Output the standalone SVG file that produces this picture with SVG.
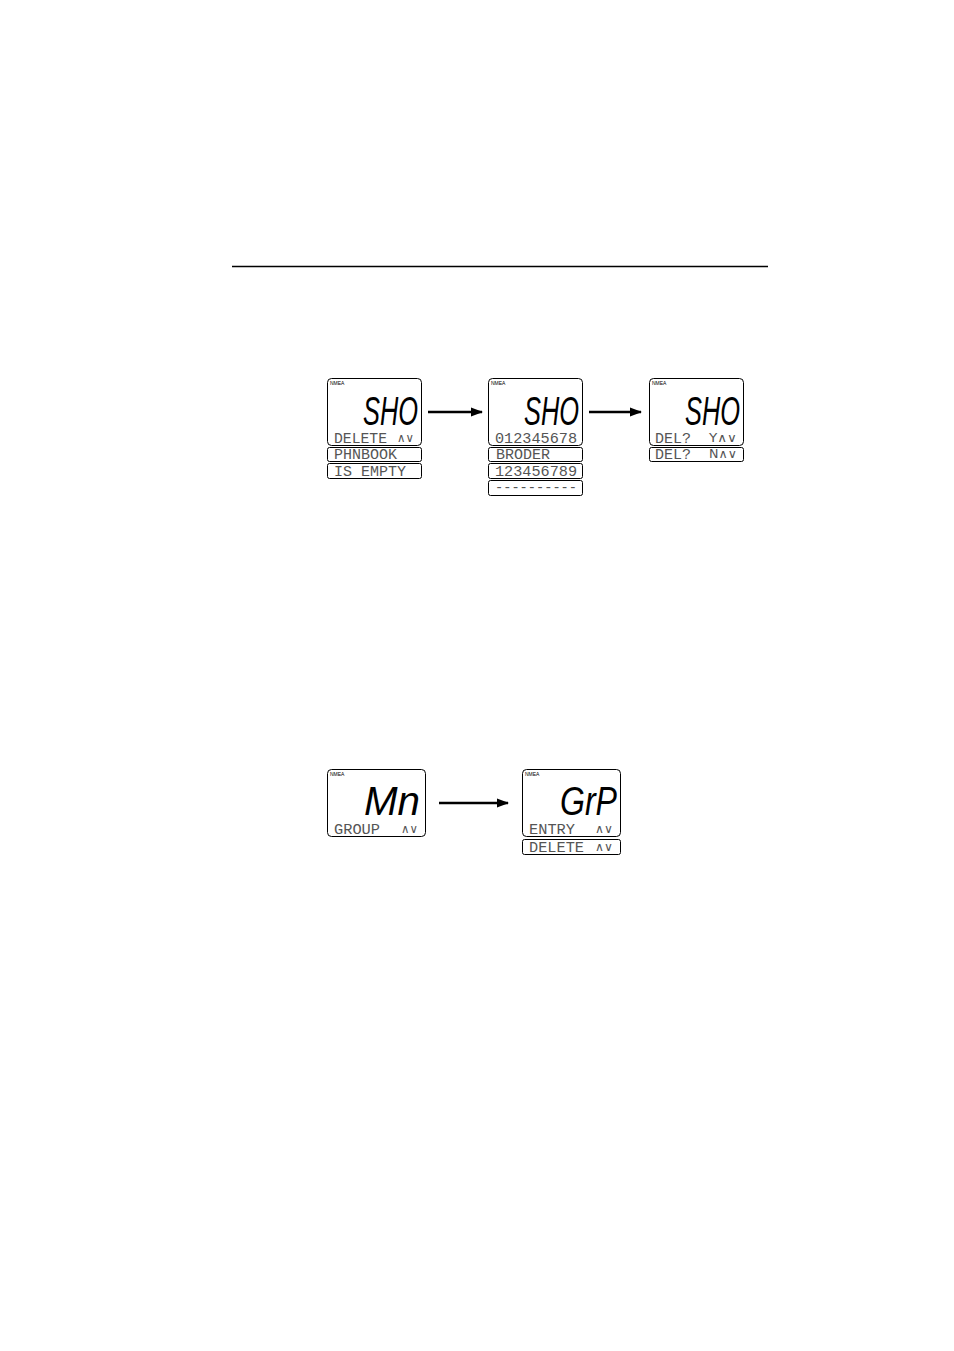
<svg xmlns="http://www.w3.org/2000/svg" width="954" height="1351" viewBox="0 0 954 1351">
<defs>
<style>
.box{fill:#fff;stroke:#000;stroke-width:1}
.strip{fill:#fff;stroke:#000;stroke-width:1}
.nmea{font-family:"Liberation Sans",Arial,sans-serif;font-size:5px;fill:#000}
.big{font-family:"Liberation Sans",Arial,sans-serif;font-size:40px;font-style:italic;fill:#000}
.lcd{font-family:"Liberation Mono","DejaVu Sans Mono",monospace;font-size:14px;fill:#555}
.sym{font-family:"DejaVu Sans",sans-serif;font-size:12px;fill:#555}
.conn{stroke:#000;stroke-width:2.5;fill:none}
</style>
<marker id="ah" markerWidth="12" markerHeight="10" refX="11" refY="5" orient="auto" markerUnits="userSpaceOnUse">
<path d="M0,0.5 L12,5 L0,9.5 Z" fill="#000"/>
</marker>
</defs>
<rect width="954" height="1351" fill="#fff"/>
<line x1="232" y1="266.5" x2="768" y2="266.5" stroke="#000" stroke-width="1.5"/>

<g id="connectors">
<line class="conn" x1="428" y1="412" x2="482" y2="412" marker-end="url(#ah)"/>
<line class="conn" x1="589" y1="412" x2="641" y2="412" marker-end="url(#ah)"/>
<line class="conn" x1="439" y1="803" x2="508" y2="803" marker-end="url(#ah)"/>
</g>

<g id="display1">
<rect class="box" x="327.5" y="378.5" width="94" height="67" rx="4"/>
<rect class="strip" x="327.5" y="447.5" width="94" height="14" rx="2"/>
<rect class="strip" x="327.5" y="463.5" width="94" height="15" rx="2"/>
<text class="nmea" x="330" y="385">NMEA</text>
<text class="big" x="363" y="425" textLength="55" lengthAdjust="spacingAndGlyphs">SHO</text>
<text class="lcd" x="334" y="443" textLength="53" lengthAdjust="spacingAndGlyphs">DELETE</text>
<text class="sym" x="397" y="442" textLength="17" lengthAdjust="spacingAndGlyphs">∧∨</text>
<text class="lcd" x="334" y="459" textLength="63" lengthAdjust="spacingAndGlyphs">PHNBOOK</text>
<text class="lcd" x="334" y="476" textLength="72" lengthAdjust="spacingAndGlyphs">IS EMPTY</text>
</g>

<g id="display2">
<rect class="box" x="488.5" y="378.5" width="94" height="67" rx="4"/>
<rect class="strip" x="488.5" y="447.5" width="94" height="14" rx="2"/>
<rect class="strip" x="488.5" y="463.5" width="94" height="15" rx="2"/>
<rect class="strip" x="488.5" y="480.5" width="94" height="15" rx="2"/>
<text class="nmea" x="491" y="385">NMEA</text>
<text class="big" x="524" y="425" textLength="55" lengthAdjust="spacingAndGlyphs">SHO</text>
<text class="lcd" x="495" y="443" textLength="82" lengthAdjust="spacingAndGlyphs">012345678</text>
<text class="lcd" x="496" y="459" textLength="54" lengthAdjust="spacingAndGlyphs">BRODER</text>
<text class="lcd" x="495" y="476" textLength="82" lengthAdjust="spacingAndGlyphs">123456789</text>
<text class="lcd" x="495" y="492" textLength="82" lengthAdjust="spacingAndGlyphs">----------</text>
</g>

<g id="display3">
<rect class="box" x="649.5" y="378.5" width="94" height="67" rx="4"/>
<rect class="strip" x="649.5" y="447.5" width="94" height="14" rx="2"/>
<text class="nmea" x="652" y="385">NMEA</text>
<text class="big" x="685" y="425" textLength="55" lengthAdjust="spacingAndGlyphs">SHO</text>
<text class="lcd" x="655" y="443" textLength="36" lengthAdjust="spacingAndGlyphs">DEL?</text>
<text class="sym" x="709" y="442" textLength="28" lengthAdjust="spacingAndGlyphs">Y∧∨</text>
<text class="lcd" x="655" y="459" textLength="36" lengthAdjust="spacingAndGlyphs">DEL?</text>
<text class="sym" x="709" y="458" textLength="28" lengthAdjust="spacingAndGlyphs">N∧∨</text>
</g>

<g id="display4">
<rect class="box" x="327.5" y="769.5" width="98" height="67" rx="4"/>
<text class="nmea" x="330" y="776">NMEA</text>
<text class="big" x="364" y="815" textLength="56" lengthAdjust="spacingAndGlyphs">Mn</text>
<text class="lcd" x="334" y="834" textLength="46" lengthAdjust="spacingAndGlyphs">GROUP</text>
<text class="sym" x="401" y="833" textLength="17" lengthAdjust="spacingAndGlyphs">∧∨</text>
</g>

<g id="display5">
<rect class="box" x="522.5" y="769.5" width="98" height="67" rx="4"/>
<rect class="strip" x="522.5" y="839.5" width="98" height="15" rx="2"/>
<text class="nmea" x="525" y="776">NMEA</text>
<text class="big" x="560" y="815" textLength="57" lengthAdjust="spacingAndGlyphs">GrP</text>
<text class="lcd" x="529" y="834" textLength="46" lengthAdjust="spacingAndGlyphs">ENTRY</text>
<text class="sym" x="595" y="833" textLength="18" lengthAdjust="spacingAndGlyphs">∧∨</text>
<text class="lcd" x="529" y="852" textLength="55" lengthAdjust="spacingAndGlyphs">DELETE</text>
<text class="sym" x="595" y="851" textLength="18" lengthAdjust="spacingAndGlyphs">∧∨</text>
</g>
</svg>
